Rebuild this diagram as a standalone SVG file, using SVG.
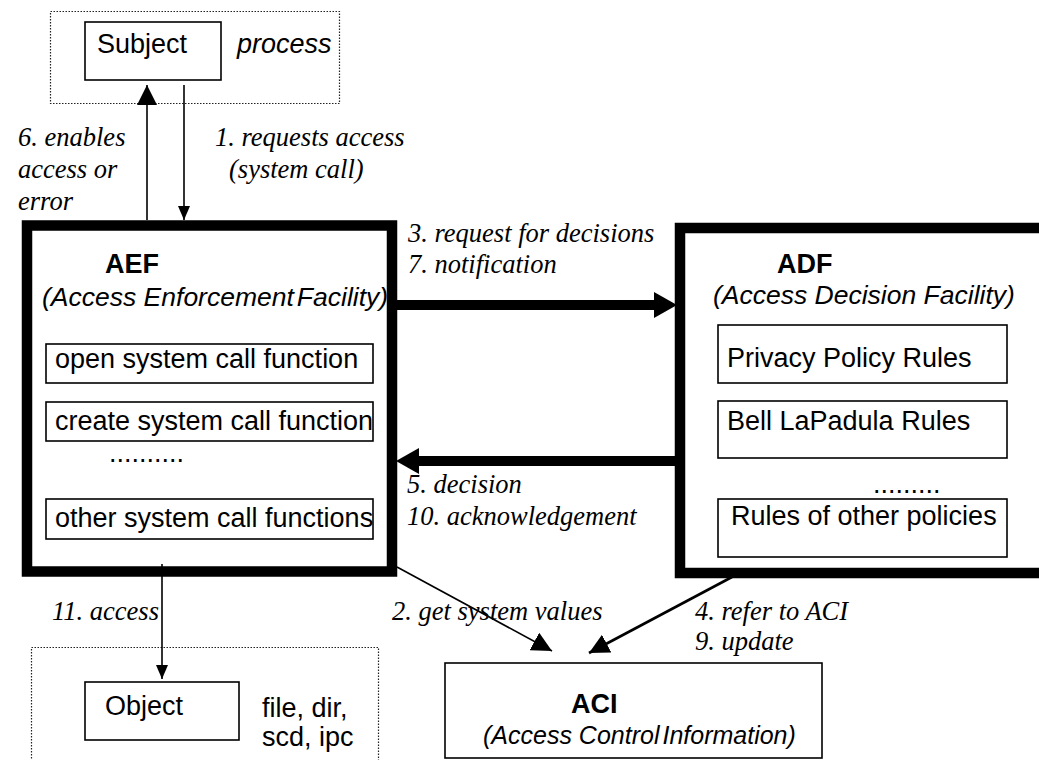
<svg xmlns="http://www.w3.org/2000/svg" width="1039" height="760" viewBox="0 0 1039 760">
<style>
.sans{font-family:"Liberation Sans",Arial,sans-serif;font-size:27px;fill:#000}
.b{font-weight:bold}
.i{font-style:italic}
.ser{font-family:"Liberation Serif","Times New Roman",serif;font-style:italic;font-size:26.5px;fill:#000}
.box{fill:#fff;stroke:#000;stroke-width:1.6}
.thick{fill:#fff;stroke:#000;stroke-width:10.5}
.dot{fill:none;stroke:#222;stroke-width:1.2;stroke-dasharray:1.5 1.5}
.ln{stroke:#000;stroke-width:1.6;fill:none}
.ln2{stroke:#000;stroke-width:2.6;fill:none}
.tk{stroke:#000;stroke-width:10;fill:none}
</style>
<defs>
<marker id="aT" markerUnits="userSpaceOnUse" viewBox="0 0 23 26" refX="5" refY="13" markerWidth="23" markerHeight="26" orient="auto"><path d="M0,0 L23,13 L0,26 z" fill="#000"/></marker>
<marker id="aL" markerUnits="userSpaceOnUse" viewBox="0 0 20 20" refX="20" refY="10" markerWidth="20" markerHeight="20" orient="auto"><path d="M0,0 L20,10 L0,20 z" fill="#000"/></marker>
<marker id="aS" markerUnits="userSpaceOnUse" viewBox="0 0 14 12" refX="14" refY="6" markerWidth="14" markerHeight="12" orient="auto"><path d="M0,0 L14,6 L0,12 z" fill="#000"/></marker>
</defs>

<g id="subject">
<rect class="dot" x="50.5" y="11.5" width="289" height="92"/>
<rect class="box" x="85" y="22" width="136" height="58"/>
<text class="sans" x="97" y="53">Subject</text>
<text class="sans i" x="237" y="53">process</text>
</g>

<g id="aef">
<rect class="thick" x="27" y="225.5" width="365" height="346"/>
<text class="sans b" x="105" y="273">AEF</text>
<text class="sans i" x="42" y="306" style="font-size:26.5px">(Access Enforcement<tspan dx="3">Facility)</tspan></text>
<rect class="box" x="46" y="344" width="327" height="39"/>
<text class="sans" x="55" y="368">open system call function</text>
<rect class="box" x="46" y="402" width="327" height="39"/>
<text class="sans" x="55" y="430">create system call function</text>
<text class="sans" x="109" y="462">..........</text>
<rect class="box" x="46" y="499" width="327" height="40"/>
<text class="sans" x="55" y="527">other system call functions</text>
</g>

<g id="adf">
<rect class="thick" x="680" y="228" width="380" height="345"/>
<text class="sans b" x="777" y="273">ADF</text>
<text class="sans i" x="713" y="304" style="font-size:26.5px">(Access Decision Facility)</text>
<rect class="box" x="718" y="325" width="289" height="58"/>
<text class="sans" x="727" y="367">Privacy Policy Rules</text>
<rect class="box" x="718" y="401" width="289" height="57"/>
<text class="sans" x="727" y="430">Bell LaPadula Rules</text>
<text class="sans" x="873" y="493">.........</text>
<rect class="box" x="718" y="499" width="289" height="58"/>
<text class="sans" x="731" y="525">Rules of other policies</text>
</g>

<g id="object">
<rect class="dot" x="31.5" y="647.5" width="347" height="130"/>
<rect class="box" x="85" y="682" width="154" height="58"/>
<text class="sans" x="105" y="715">Object</text>
<text class="sans" x="262" y="717">file, dir,</text>
<text class="sans" x="262" y="746">scd, ipc</text>
</g>

<g id="aci">
<rect class="box" x="445" y="663" width="377" height="95"/>
<text class="sans b" x="571" y="713">ACI</text>
<text class="sans i" x="483" y="744" style="font-size:25px">(Access Control<tspan dx="3">Information)</tspan></text>
</g>

<g id="connectors">
<line class="ln" x1="147" y1="220" x2="147" y2="85" marker-end="url(#aL)"/>
<line class="ln" x1="184" y1="85" x2="184" y2="220" marker-end="url(#aS)"/>
<line class="tk" x1="397" y1="305" x2="659" y2="305" marker-end="url(#aT)"/>
<line class="tk" x1="675" y1="461" x2="414" y2="461" marker-end="url(#aT)"/>
<line class="ln" x1="162" y1="564" x2="162" y2="679" marker-end="url(#aS)"/>
<line class="ln" x1="397" y1="567" x2="552" y2="651" marker-end="url(#aL)"/>
<line class="ln2" x1="732" y1="577" x2="589" y2="653" marker-end="url(#aL)"/>
</g>

<g id="labels">
<text class="ser" x="18" y="146">6. enables</text>
<text class="ser" x="18" y="178">access or</text>
<text class="ser" x="18" y="210">error</text>
<text class="ser" x="215" y="146">1. requests access</text>
<text class="ser" x="229" y="178">(system call)</text>
<text class="ser" x="408" y="242">3. request for decisions</text>
<text class="ser" x="408" y="273">7. notification</text>
<text class="ser" x="407" y="493">5. decision</text>
<text class="ser" x="407" y="525">10. acknowledgement</text>
<text class="ser" x="52" y="620">11. access</text>
<text class="ser" x="392" y="620">2. get system values</text>
<text class="ser" x="695" y="620">4. refer to ACI</text>
<text class="ser" x="695" y="650">9. update</text>
</g>
</svg>
